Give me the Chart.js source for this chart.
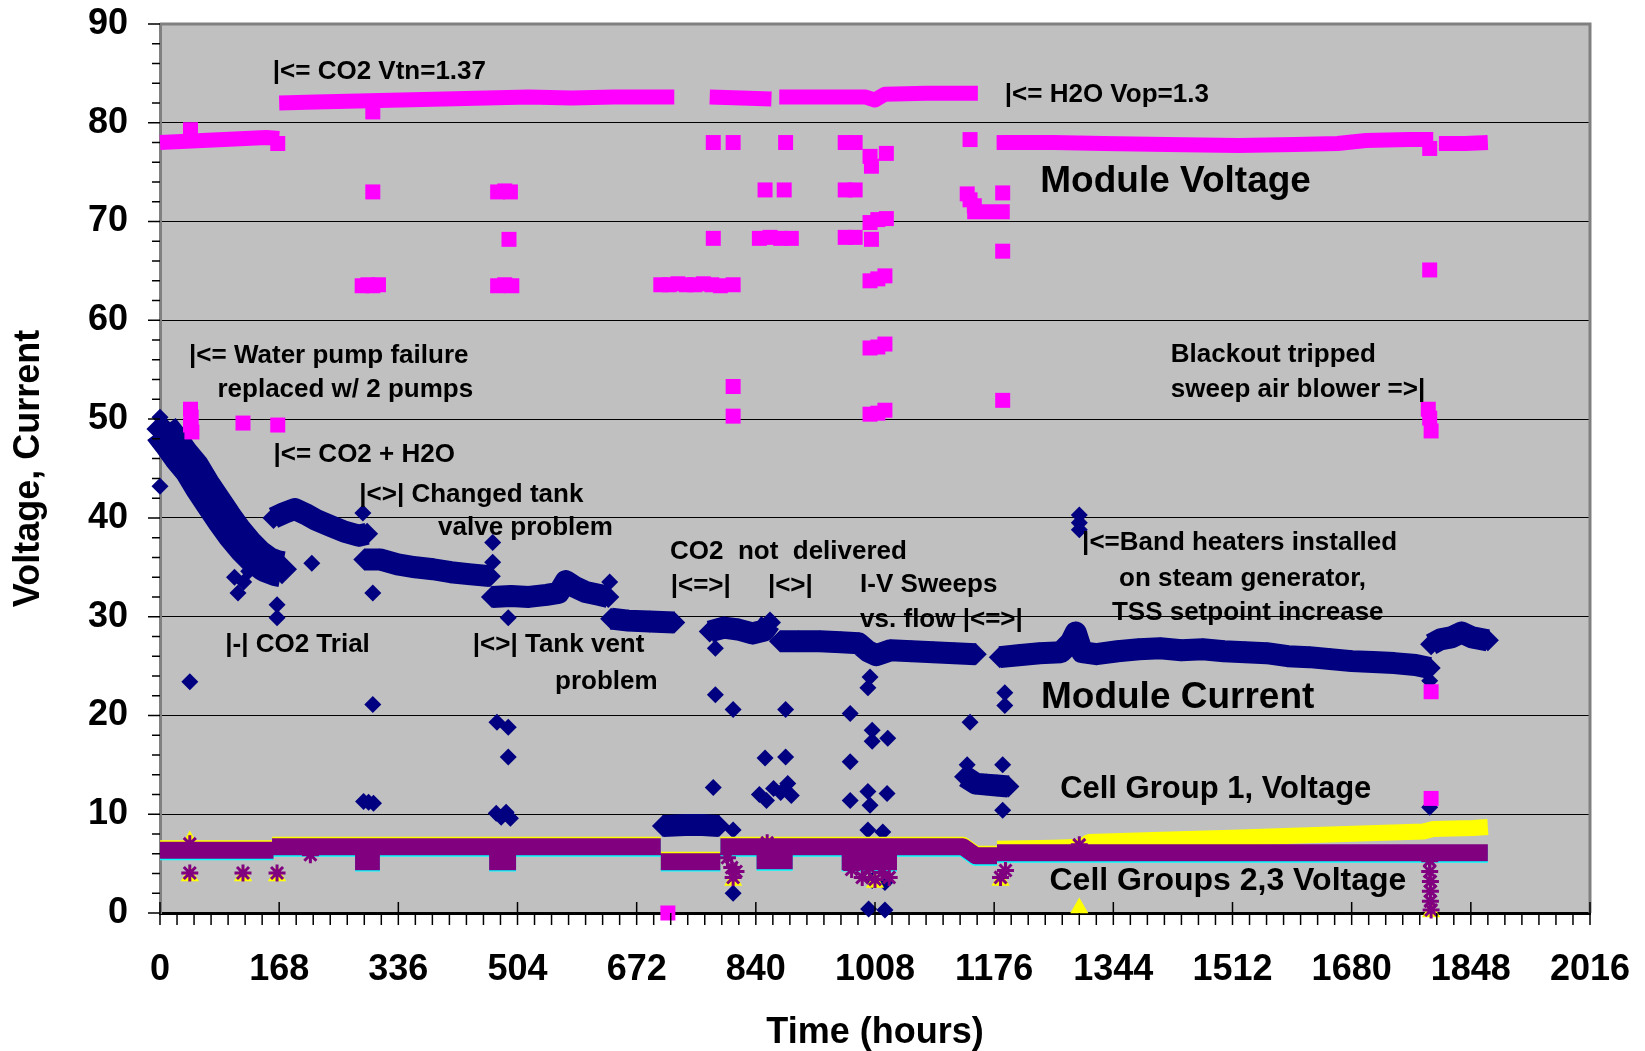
<!DOCTYPE html>
<html>
<head>
<meta charset="utf-8">
<script src="https://cdn.jsdelivr.net/npm/chart.js@4.4.0/dist/chart.umd.min.js"></script>
<style>
  html, body { margin: 0; padding: 0; background: #fff; overflow: hidden; }
</style>
</head>
<body>
<canvas id="myChart" width="1645" height="1051"></canvas>
<script>
// axis ticks
const xTicks = [0, 168, 336, 504, 672, 840, 1008, 1176, 1344, 1512, 1680, 1848, 2016];
const yTicks = [0, 10, 20, 30, 40, 50, 60, 70, 80, 90];

// Module Voltage: main runs (null = break) and scattered readings
const vBand = [
  [0, 78.0], [30, 78.1], [60, 78.2], [90, 78.3], [120, 78.4], [150, 78.5], [168, 78.4], null,
  [168, 82.0], [220, 82.1], [280, 82.2], [340, 82.3], [400, 82.4], [460, 82.5], [520, 82.6], [580, 82.5], [640, 82.6], [725, 82.6], null,
  [775, 82.6], [820, 82.5], [862, 82.4], null,
  [873, 82.6], [930, 82.6], [995, 82.6], [1008, 82.3], [1022, 82.9], [1080, 83.0], [1153, 83.0], null,
  [1138, 71.0], [1198, 71.0], null,
  [1190, 78.0], [1260, 78.0], [1330, 77.9], [1420, 77.8], [1520, 77.7], [1600, 77.8], [1660, 77.9], [1700, 78.2], [1760, 78.3], [1795, 78.3], null,
  [1803, 77.9], [1840, 77.9], [1872, 78.0]
];
const vPts = [
  [43, 79.3], [43, 51.0], [44, 50.2], [43, 49.4], [45, 48.7], [117, 49.6], [166, 49.4], [166, 77.9],
  [300, 81.1], [300, 73.0], [285, 63.5], [293, 63.6], [300, 63.5], [308, 63.6],
  [476, 73.0], [486, 73.1], [494, 73.0], [476, 63.5], [486, 63.6], [496, 63.5], [492, 68.2],
  [706, 63.6], [718, 63.6], [730, 63.7], [742, 63.6], [754, 63.6], [766, 63.7], [778, 63.6], [790, 63.5],
  [716, 0],
  [780, 78.0], [780, 68.3], [808, 78.0], [808, 63.6], [808, 53.3], [808, 50.3],
  [853, 73.2], [880, 73.2], [845, 68.3], [860, 68.4], [875, 68.3], [890, 68.3], [882, 78.0],
  [966, 78.0], [980, 78.0], [966, 73.2], [980, 73.2], [966, 68.4], [980, 68.4],
  [1001, 76.6], [1003, 75.6], [1024, 76.9], [1001, 69.9], [1012, 70.2], [1024, 70.3], [1003, 68.2],
  [1001, 64.0], [1012, 64.2], [1022, 64.5], [1001, 57.2], [1012, 57.3], [1022, 57.6],
  [1001, 50.5], [1012, 50.6], [1022, 50.9],
  [1142, 78.3], [1138, 72.8], [1142, 72.2], [1148, 71.6], [1188, 72.9], [1188, 67.0], [1188, 51.9], [1190, 78.0],
  [1790, 77.4], [1790, 65.1], [1788, 51.0], [1790, 50.1], [1792, 48.8], [1792, 22.4], [1792, 11.6]
];

// Module Current
const iBandA = [
  [2, 49.0], [15, 47.8], [30, 46.3], [45, 45.0], [60, 43.2], [75, 41.6], [90, 40.0], [105, 38.5],
  [120, 37.2], [135, 36.1], [150, 35.3], [165, 34.9], [172, 34.8]
];
const iBand = [
  [160, 40.0], [175, 40.5], [190, 40.9], [205, 40.4], [220, 39.8], [240, 39.2], [260, 38.6], [280, 38.2], [292, 38.4], null,
  [288, 35.8], [310, 35.8], [335, 35.3], [360, 35.0], [385, 34.8], [410, 34.5], [435, 34.3], [465, 34.1], null,
  [468, 32.0], [495, 32.1], [520, 32.0], [545, 32.2], [562, 32.4], [572, 33.6], [585, 33.0], [600, 32.5], [620, 32.2], [632, 32.0], null,
  [636, 29.8], [660, 29.6], [690, 29.5], [725, 29.4], null,
  [709, 8.8], [740, 8.9], [765, 8.9], [788, 8.8], null,
  [775, 28.5], [795, 28.9], [815, 28.7], [835, 28.3], [852, 28.6], [860, 29.4], null,
  [874, 27.5], [900, 27.5], [930, 27.5], [960, 27.4], [985, 27.3], [998, 26.5], [1010, 26.1], [1030, 26.6], [1060, 26.5], [1090, 26.4], [1120, 26.3], [1150, 26.2], null,
  [1135, 13.8], [1150, 13.1], [1165, 13.0], [1180, 12.9], [1196, 12.8], null,
  [1184, 25.9], [1210, 26.1], [1240, 26.3], [1270, 26.4], [1284, 27.4], [1291, 28.4], [1300, 26.4], [1320, 26.2], [1350, 26.5],
  [1380, 26.7], [1410, 26.8], [1440, 26.6], [1470, 26.7], [1500, 26.5], [1530, 26.4], [1560, 26.3], [1590, 26.0], [1620, 25.9],
  [1650, 25.7], [1680, 25.5], [1710, 25.4], [1740, 25.3], [1770, 25.1], [1790, 24.8], null,
  [1792, 27.2], [1805, 27.7], [1820, 27.9], [1835, 28.4], [1850, 27.9], [1872, 27.6]
];
const iPts = [
  [0, 43.2], [0, 50.2], [1, 47.3], [3, 49.6], [42, 23.4], [105, 34.0], [110, 32.4], [118, 33.5], [125, 34.6],
  [165, 31.2], [165, 29.9], [214, 35.4], [286, 40.5], [300, 32.4], [300, 21.1], [287, 11.3], [294, 11.2], [301, 11.1],
  [469, 37.5], [469, 35.5], [491, 29.9], [475, 19.3], [491, 18.8], [491, 15.8], [474, 10.1], [481, 9.7], [488, 10.2], [494, 9.6],
  [634, 33.5], [783, 26.8], [783, 22.1], [808, 20.6], [780, 12.7], [808, 8.4], [808, 2.0],
  [853, 15.7], [882, 15.8], [882, 20.6], [845, 12.0], [855, 11.4], [865, 12.6], [875, 12.2], [885, 13.1], [890, 11.9],
  [973, 20.2], [973, 15.3], [973, 11.4], [998, 22.8], [1001, 23.9], [1004, 18.5], [1004, 17.4], [1026, 17.7],
  [998, 12.3], [1025, 12.1], [1001, 10.9], [998, 8.4], [1019, 8.2], [1000, 5.5], [1020, 5.0], [1004, 3.3], [1022, 3.1], [999, 0.4], [1022, 0.3],
  [1142, 19.3], [1138, 15.0], [1188, 15.0], [1188, 10.4], [1191, 22.3], [1191, 21.0],
  [1296, 40.3], [1296, 39.5], [1296, 38.8], [1790, 23.5], [1790, 10.7]
];

// Cell Group 1 voltage
const g1Band = [
  [0, 6.55], [160, 6.55], null,
  [158, 6.9], [706, 6.9], null,
  [706, 5.4], [790, 5.4], null,
  [790, 6.9], [1132, 6.9], [1150, 6.0], [1180, 6.0], null,
  [1180, 6.5], [1260, 6.6], [1300, 6.7], [1310, 7.2], [1400, 7.4], [1523, 7.65], [1650, 7.95], [1781, 8.25], [1795, 8.5], [1851, 8.6], [1872, 8.7]
];
const g1Pts = [[42, 3.75], [117, 3.75], [165, 3.75], [808, 3.3], [1008, 3.1], [1185, 3.3], [1296, 0.5], [1792, 0.1], [42, 7.3]];

// Cell Groups 2,3 voltage
const g2Band = [
  [0, 6.35], [160, 6.35], null,
  [158, 6.7], [706, 6.7], null,
  [790, 6.7], [1132, 6.7], [1150, 5.8], [1180, 5.8], null,
  [1180, 6.1], [1872, 6.1], null,
  [275, 5.2], [310, 5.2], null,
  [464, 5.2], [502, 5.2], null,
  [706, 5.2], [790, 5.2], null,
  [841, 5.3], [892, 5.3], null,
  [961, 5.2], [1039, 5.2]
];
const g3Band = [
  [0, 6.2], [160, 6.2], null,
  [158, 6.55], [706, 6.55], null,
  [790, 6.55], [1132, 6.55], [1150, 5.65], [1180, 5.65], null,
  [1180, 5.95], [1872, 5.95], null,
  [275, 5.05], [310, 5.05], null,
  [464, 5.05], [502, 5.05], null,
  [706, 5.05], [790, 5.05], null,
  [841, 5.15], [892, 5.15], null,
  [961, 5.05], [1039, 5.05]
];
const g2Pts = [
  [42, 7.0], [42, 4.05], [117, 4.05], [165, 4.05], [212, 5.9], [800, 5.6], [806, 4.6], [808, 3.6], [812, 4.2], [856, 7.1],
  [975, 4.4], [990, 3.6], [1000, 4.6], [1008, 3.4], [1018, 4.1], [1028, 3.6], [1185, 3.6], [1192, 4.3], [1296, 6.9],
  [1790, 5.3], [1790, 4.2], [1791, 3.2], [1791, 2.2], [1791, 1.2], [1792, 0.3]
];

// text notes: text, x (hours), y (value), font size
const notes = [
  ["|<= CO2 Vtn=1.37", 159, 85.2, 26],
  ["|<= H2O Vop=1.3", 1191, 82.8, 26],
  ["Module Voltage", 1241, 74.05, 37],
  ["|<= Water pump failure", 41, 56.4, 26],
  ["replaced w/ 2 pumps", 81, 53.0, 26],
  ["Blackout tripped", 1425, 56.5, 26],
  ["sweep air blower =>|", 1425, 53.0, 26],
  ["|<= CO2 + H2O", 160, 46.4, 26],
  ["|<>| Changed tank", 281, 42.3, 26],
  ["valve problem", 392, 39.0, 26],
  ["CO2  not  delivered", 719, 36.6, 26],
  ["|<=>|", 720, 33.1, 26],
  ["|<>|", 857, 33.1, 26],
  ["I-V Sweeps", 987, 33.2, 26],
  ["vs. flow |<=>|", 987, 29.7, 26],
  ["|<=Band heaters installed", 1300, 37.5, 26],
  ["on steam generator,", 1352, 33.8, 26],
  ["TSS setpoint increase", 1342, 30.4, 26],
  ["|-| CO2 Trial", 92, 27.1, 26],
  ["|<>| Tank vent", 441, 27.1, 26],
  ["problem", 557, 23.4, 26],
  ["Module Current", 1242, 21.8, 37],
  ["Cell Group 1, Voltage", 1269, 12.5, 31],
  ["Cell Groups 2,3 Voltage", 1254, 3.2, 32]
];

const FONT = "'Liberation Sans', Arial, sans-serif";
Chart.defaults.font.family = FONT;

function xy(a) {
  return a.map(p => p ? { x: p[0], y: p[1] } : { x: null, y: null });
}

function band(label, arr, color, width) {
  return {
    label: label, data: xy(arr), showLine: true, spanGaps: false,
    borderColor: color, borderWidth: width, borderJoinStyle: 'round',
    pointRadius: 0, pointHoverRadius: 0, clip: false
  };
}

function marks(label, arr, color, style, r, bw) {
  return {
    label: label, data: xy(arr), showLine: false, pointStyle: style,
    pointRadius: r, pointHoverRadius: r,
    pointBackgroundColor: color, pointBorderColor: color, pointBorderWidth: bw,
    clip: false
  };
}

const deco = {
  id: 'deco',
  beforeDraw(chart) {
    const { ctx, chartArea: a } = chart;
    ctx.save();
    ctx.fillStyle = '#c0c0c0';
    ctx.fillRect(a.left, a.top, a.right - a.left, a.bottom - a.top);
    ctx.restore();
  },
  afterDatasetsDraw(chart) {
    const { ctx, scales: { x, y } } = chart;
    ctx.save();
    ctx.fillStyle = '#000';
    ctx.textAlign = 'left';
    ctx.textBaseline = 'middle';
    notes.forEach(n => {
      ctx.font = 'bold ' + n[3] + 'px ' + FONT;
      ctx.fillText(n[0], x.getPixelForValue(n[1]), y.getPixelForValue(n[2]));
    });
    ctx.restore();
  },
  afterDraw(chart) {
    const { ctx, chartArea: a, scales: { x, y } } = chart;
    ctx.save();
    ctx.strokeStyle = '#808080';
    ctx.lineWidth = 3;
    ctx.beginPath();
    ctx.moveTo(a.left, a.top);
    ctx.lineTo(a.right, a.top);
    ctx.lineTo(a.right, a.bottom);
    ctx.stroke();

    // tick marks, major and minor
    ctx.strokeStyle = '#000';
    ctx.lineWidth = 1.5;
    ctx.beginPath();
    for (let v = 0; v <= 90; v += 2) {
      const py = y.getPixelForValue(v);
      ctx.moveTo(a.left - (v % 10 === 0 ? 12 : 8), py);
      ctx.lineTo(a.left, py);
    }
    for (let v = 0; v <= 2016; v += 24) {
      const px = x.getPixelForValue(v);
      ctx.moveTo(px, a.bottom + 12);
      ctx.lineTo(px, a.bottom - (v % 168 === 0 ? 11 : 0));
    }
    ctx.stroke();
    ctx.restore();
  }
};

new Chart("myChart", {
  type: "scatter",
  data: {
    datasets: [
      marks("Cell Group 2 pts", g2Pts, "#800080", "star", 8.5, 3),
      band("Cell Group 2", g2Band, "#800080", 17),
      band("Cell Group 3", g3Band, "#00ffff", 17),
      marks("Cell Group 1 pts", g1Pts, "#ffff00", "triangle", 10.5, 0),
      band("Cell Group 1", g1Band, "#ffff00", 16),
      marks("Module Voltage pts", vPts, "#ff00ff", "rect", 10.6, 0),
      band("Module Voltage", vBand, "#ff00ff", 15),
      marks("Module Current pts", iPts, "#000080", "rectRot", 8.5, 0),
      Object.assign(band("Module Current", iBand, "#000080", 22), {
        pointStyle: 'rectRot', pointRadius: 11, pointBackgroundColor: '#000080', pointBorderWidth: 0
      }),
      Object.assign(band("Module Current start", iBandA, "#000080", 36), {
        pointStyle: 'rectRot', pointRadius: 15, pointBackgroundColor: '#000080', pointBorderWidth: 0
      })
    ]
  },
  options: {
    responsive: false,
    animation: false,
    devicePixelRatio: 1,
    layout: { padding: { top: 24, right: 55, bottom: 0, left: 0 } },
    plugins: {
      legend: { display: false },
      tooltip: { enabled: false }
    },
    scales: {
      x: {
        type: 'linear', min: 0, max: 2016,
        afterBuildTicks: s => { s.ticks = xTicks.map(v => ({ value: v })); },
        afterFit: s => { s.height = 138; },
        grid: { drawOnChartArea: false, drawTicks: true, tickLength: 35, tickColor: 'rgba(0,0,0,0)' },
        border: { display: true, color: '#000', width: 3 },
        ticks: { color: '#000', padding: 0, font: { size: 36, weight: 'bold' }, maxRotation: 0,
                 callback: v => String(v) },
        title: { display: true, text: 'Time (hours)', color: '#000', padding: { top: 0, bottom: 0 },
                 font: { size: 36, weight: 'bold', lineHeight: 1 } }
      },
      y: {
        type: 'linear', min: 0, max: 90,
        afterBuildTicks: s => { s.ticks = yTicks.map(v => ({ value: v })); },
        afterFit: s => { s.width = 160; },
        grid: {
          drawTicks: true, tickLength: 32, tickColor: 'rgba(0,0,0,0)', lineWidth: 1,
          color: c => (c.tick && c.tick.value > 0 && c.tick.value < 90) ? '#000' : 'rgba(0,0,0,0)'
        },
        border: { display: true, color: '#808080', width: 3 },
        ticks: { color: '#000', padding: 0, font: { size: 36, weight: 'bold' }, callback: v => String(v) },
        title: { display: true, text: 'Voltage, Current', color: '#000', padding: { top: 7, bottom: 0 },
                 font: { size: 36, weight: 'bold' } }
      }
    }
  },
  plugins: [deco]
});
</script>
</body>
</html>
